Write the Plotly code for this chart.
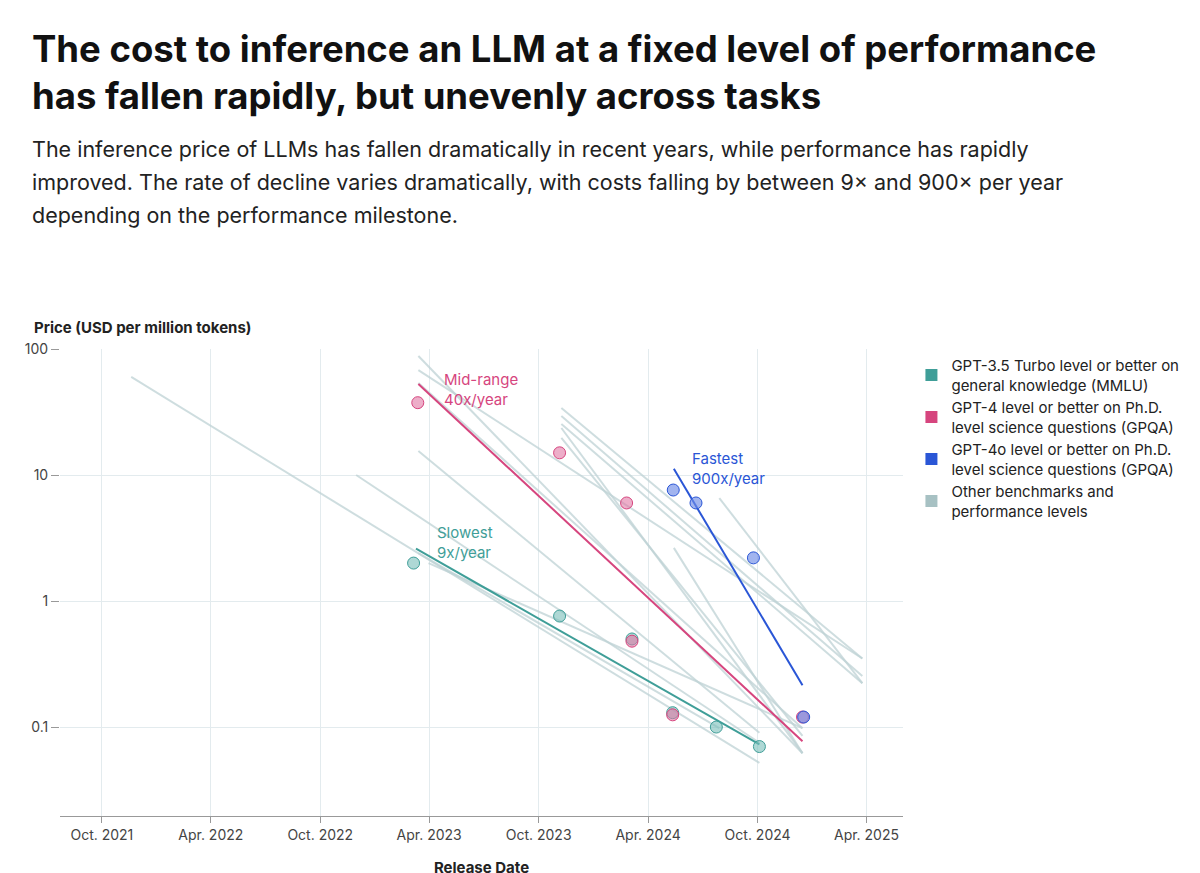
import math
import plotly.graph_objects as go

# Highlighted benchmark series: (name, colour, points, trend line)
series = {
    "GPT-3.5 Turbo level or better on<br>general knowledge (MMLU)": dict(
        color="#3f9e98", fill="rgba(120,190,185,0.6)",
        x=["2023-03-06", "2023-11-05", "2024-03-05", "2024-05-12", "2024-07-24", "2024-10-04"],
        y=[2.0, 0.76, 0.5, 0.13, 0.1, 0.07],
        tx=["2023-03-10", "2024-10-04"], ty=[2.6, 0.073]),
    "GPT-4 level or better on Ph.D.<br>level science questions (GPQA)": dict(
        color="#d6457e", fill="rgba(225,120,165,0.6)",
        x=["2023-03-13", "2023-11-05", "2024-02-25", "2024-03-05", "2024-05-12", "2024-12-15"],
        y=[37.5, 15, 6, 0.48, 0.125, 0.12],
        tx=["2023-03-14", "2024-12-15"], ty=[52.7, 0.077]),
    "GPT-4o level or better on Ph.D.<br>level science questions (GPQA)": dict(
        color="#2a56d6", fill="rgba(110,140,230,0.65)",
        x=["2024-05-13", "2024-06-20", "2024-09-24", "2024-12-17"],
        y=[7.6, 6, 2.2, 0.12],
        tx=["2024-05-14", "2024-12-15"], ty=[11.2, 0.215]),
}

# Other benchmarks: start/end of each trend line
others = [
    (("2021-11-19", "2024-10-04"), (60, 0.052)),
    (("2022-11-30", "2024-10-04"), (10, 0.075)),
    (("2023-03-14", "2024-10-04"), (15.5, 0.09)),
    (("2023-03-14", "2024-12-15"), (88, 0.062)),
    (("2023-03-14", "2025-03-25"), (68, 0.35)),
    (("2023-03-14", "2024-12-15"), (53.7, 0.098)),
    (("2023-11-08", "2025-03-25"), (34, 0.35)),
    (("2023-11-08", "2025-03-25"), (29.4, 0.254)),
    (("2023-11-08", "2025-03-25"), (25.4, 0.223)),
    (("2023-11-08", "2024-12-15"), (23.6, 0.062)),
    (("2023-11-08", "2024-12-15"), (19.7, 0.085)),
    (("2024-05-14", "2024-12-15"), (2.64, 0.062)),
    (("2024-07-29", "2025-03-25"), (6.56, 0.223)),
    (("2023-03-14", "2024-07-29"), (2.4, 0.098)),
    (("2023-03-31", "2024-12-15"), (2.0, 0.098)),
]
gray = "rgba(190,210,212,0.75)"

fig = go.Figure()
for xs, ys in others:
    fig.add_trace(go.Scatter(x=list(xs), y=list(ys), mode="lines",
                             line=dict(color=gray, width=2), showlegend=False, hoverinfo="skip"))

for name, s in series.items():
    fig.add_trace(go.Scatter(x=s["tx"], y=s["ty"], mode="lines",
                             line=dict(color=s["color"], width=2), showlegend=False))
for name, s in series.items():
    fig.add_trace(go.Scatter(x=s["x"], y=s["y"], mode="markers",
                             marker=dict(size=12, color=s["fill"], line=dict(color=s["color"], width=1)),
                             showlegend=False))

# legend entries
legend_items = [(n, s["color"]) for n, s in series.items()]
legend_items.append(("Other benchmarks and<br>performance levels", "#a7c1c3"))
for n, c in legend_items:
    fig.add_trace(go.Scatter(x=[None], y=[None], mode="markers", name=n,
                             marker=dict(symbol="square", size=14, color=c)))

labels = [
    ("2023-04-22", 48, "Mid-range<br>40x/year", "#d6457e"),
    ("2023-04-10", 2.9, "Slowest<br>9x/year", "#3f9e98"),
    ("2024-06-10", 11.2, "Fastest<br>900x/year", "#2a56d6"),
]
for x, y, t, c in labels:
    # log axis: annotation y is given in log10 units
    fig.add_annotation(x=x, y=math.log10(y), yref="y", text=t, showarrow=False, xanchor="left",
                       align="left", font=dict(size=15, color=c))

fig.add_annotation(xref="paper", yref="paper", x=-0.033, y=1.07, xanchor="left", showarrow=False,
                   text="<b>Price (USD per million tokens)</b>", font=dict(size=15, color="#222"))
fig.add_annotation(x=0, xref="paper", yref="paper", y=1.0, yshift=324, xshift=-30, xanchor="left",
                   yanchor="top", showarrow=False, align="left",
                   text="<b>The cost to inference an LLM at a fixed level of performance<br>has fallen rapidly, but unevenly across tasks</b>",
                   font=dict(size=36.5, color="#111"))
subtitle = ["The inference price of LLMs has fallen dramatically in recent years, while performance has rapidly",
            "improved. The rate of decline varies dramatically, with costs falling by between 9× and 900× per year",
            "depending on the performance milestone."]
for i, line in enumerate(subtitle):
    fig.add_annotation(x=0, xref="paper", yref="paper", y=1.0, yshift=200 - 33 * i, xshift=-30,
                       xanchor="left", yanchor="middle", showarrow=False, text=line,
                       font=dict(size=21.5, color="#222"))

tickvals = ["2021-10-01", "2022-04-01", "2022-10-01", "2023-04-01", "2023-10-01",
            "2024-04-01", "2024-10-01", "2025-04-01"]
ticktext = ["Oct. 2021", "Apr. 2022", "Oct. 2022", "Apr. 2023", "Oct. 2023",
            "Apr. 2024", "Oct. 2024", "Apr. 2025"]

fig.update_layout(
    width=1200, height=873, plot_bgcolor="white", paper_bgcolor="white",
    font=dict(family="Inter, Liberation Sans, sans-serif", size=14, color="#444"),
    margin=dict(l=52, r=305, t=341, b=65),
    legend=dict(x=1.01, y=1.0, xanchor="left", yanchor="top", font=dict(size=15, color="#222"),
                tracegroupgap=6, itemsizing="constant"),
    xaxis=dict(range=["2021-07-23", "2025-06-01"], tickvals=tickvals, ticktext=ticktext,
               showgrid=True, gridcolor="#e3ebee", ticks="outside", ticklen=6, tickcolor="#999",
               showline=True, linecolor="#999", zeroline=False, automargin=False,
               title=dict(text="<b>Release Date</b>", font=dict(size=15, color="#222"), standoff=20)),
    yaxis=dict(type="log", range=[-1.706, 2], tickvals=[0.1, 1, 10, 100], ticktext=["0.1", "1", "10", "100"],
               showgrid=True, gridcolor="#e3ebee", ticks="outside", ticklen=8, tickcolor="#999",
               zeroline=False, automargin=False),
)

fig.write_html("out.html")
